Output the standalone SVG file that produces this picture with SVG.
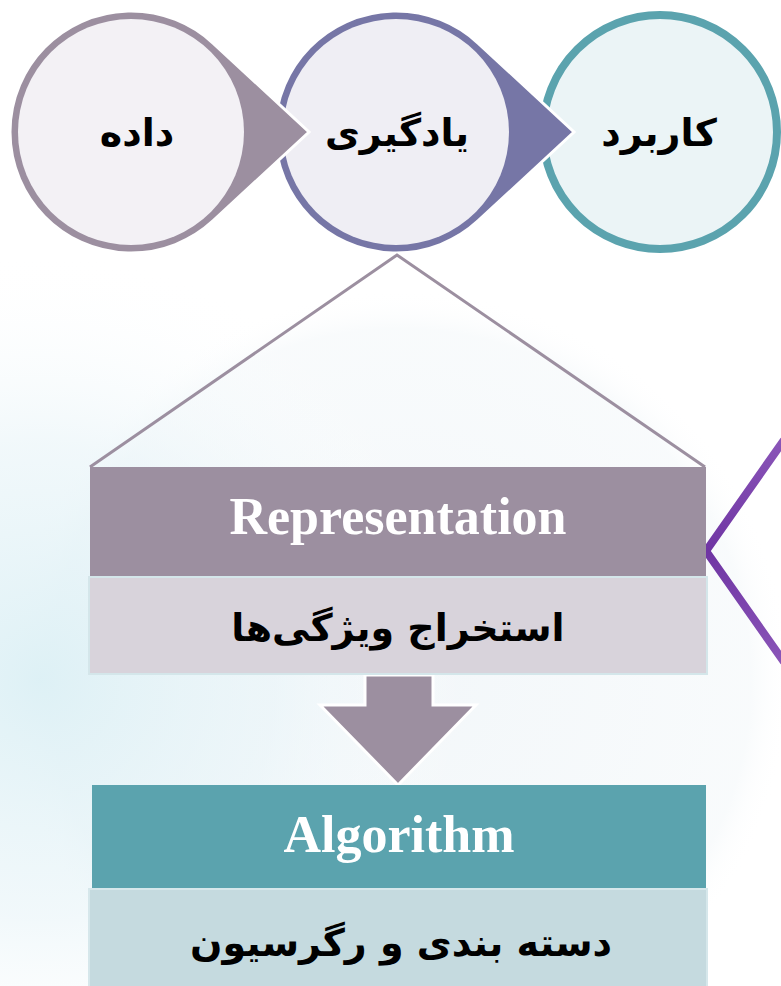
<svg xmlns="http://www.w3.org/2000/svg" width="781" height="986" viewBox="0 0 781 986">
  <defs>
    <radialGradient id="hazeL" cx="40" cy="680" r="430" gradientUnits="userSpaceOnUse">
      <stop offset="0" stop-color="#dcf0f5" stop-opacity="0.95"/>
      <stop offset="0.55" stop-color="#e8f4f8" stop-opacity="0.6"/>
      <stop offset="1" stop-color="#ffffff" stop-opacity="0"/>
    </radialGradient>
    <radialGradient id="hazeC" cx="400" cy="680" r="390" gradientUnits="userSpaceOnUse">
      <stop offset="0" stop-color="#f1f6f9" stop-opacity="0.9"/>
      <stop offset="0.9" stop-color="#f4f8fa" stop-opacity="0.6"/>
      <stop offset="1" stop-color="#ffffff" stop-opacity="0"/>
    </radialGradient>
    <linearGradient id="chev" x1="0" y1="0" x2="0" y2="1">
      <stop offset="0" stop-color="#8a55b8"/>
      <stop offset="0.5" stop-color="#6f35a3"/>
      <stop offset="1" stop-color="#8a55b8"/>
    </linearGradient>
  </defs>
  <style>
    .fa { font-family: "DejaVu Sans", "Noto Sans", sans-serif; font-weight: bold; fill: #000; text-anchor: middle; }
    .en { font-family: "Liberation Serif", "Times New Roman", serif; font-weight: bold; fill: #fff; text-anchor: middle; font-size: 52px; }
    .tab { stroke: #fff; stroke-width: 3; stroke-linejoin: miter; }
    .link { fill: none; stroke: #9c8fa0; stroke-width: 3; }
  </style>

  <!-- soft background wash -->
  <rect width="781" height="986" fill="#fff"/>
  <rect x="0" y="260" width="781" height="726" fill="url(#hazeC)"/>
  <rect x="0" y="260" width="781" height="726" fill="url(#hazeL)"/>

  <!-- stage 3: last stage, plain ring -->
  <g id="node-karbord">
    <circle cx="660" cy="132" r="117" fill="#ebf4f6" stroke="#5ba3ae" stroke-width="8"/>
    <text class="fa" x="659" y="146" font-size="38">کاربرد</text>
  </g>

  <!-- stage 2 -->
  <g id="node-yadgiri">
    <path class="tab" fill="#7676a6" d="M478.3 43.3 L574 132 L478.3 220.7 A121 121 0 1 1 478.3 43.3 Z"/>
    <circle cx="396" cy="132" r="113" fill="#efeef4"/>
    <text class="fa" x="397" y="146" font-size="38">یادگیری</text>
  </g>

  <!-- stage 1 -->
  <g id="node-dade">
    <path class="tab" fill="#9c8fa0" d="M213.3 43.3 L309 132 L213.3 220.7 A121 121 0 1 1 213.3 43.3 Z"/>
    <circle cx="131" cy="132" r="113" fill="#f3f1f5"/>
    <text class="fa" x="137" y="146" font-size="38">داده</text>
  </g>

  <!-- connectors -->
  <g id="connectors">
    <polyline class="link" points="90,467 397,255 705,467"/>
    <path d="M365 675 H433 V705 H476 L398 785 L320 705 H365 Z" fill="#9c8fa0" stroke="#fff" stroke-width="3" stroke-linejoin="miter"/>
    <polyline points="784,440 706,551 784,662" fill="none" stroke="url(#chev)" stroke-width="8" stroke-linejoin="round"/>
  </g>

  <!-- representation block -->
  <g id="node-representation">
    <rect x="90" y="467" width="616" height="110" fill="#9c8fa0"/>
    <text class="en" x="398" y="534">Representation</text>
  </g>
  <g id="node-feature-extraction">
    <rect x="89" y="577" width="618" height="97" fill="#d8d3db" stroke="#d4e6ea" stroke-width="2"/>
    <text class="fa" x="398" y="641" font-size="38">استخراج ویژگی‌ها</text>
  </g>

  <!-- algorithm block -->
  <g id="node-algorithm">
    <rect x="92" y="785" width="614" height="104" fill="#5ba3ae"/>
    <text class="en" x="399" y="852">Algorithm</text>
  </g>
  <g id="node-classification">
    <rect x="89" y="889" width="618" height="100" fill="#c5dadf" stroke="#d6e7eb" stroke-width="2"/>
    <text class="fa" x="401" y="956" font-size="38">دسته بندی و رگرسیون</text>
  </g>
</svg>
